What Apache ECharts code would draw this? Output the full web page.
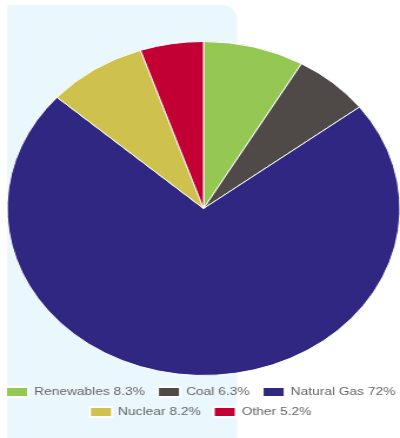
<!DOCTYPE html>
<html>
<head>
<meta charset="utf-8">
<script src="https://cdn.jsdelivr.net/npm/echarts@6/dist/echarts.min.js"></script>
<style>
  html, body { margin: 0; padding: 0; overflow: hidden; background: #fff; }
  #chart { width: 340px; height: 438px; transform: scaleX(1.1765); transform-origin: 0 0; }
</style>
</head>
<body>
<div id="chart"></div>
<script>
var myChart = echarts.init(document.getElementById('chart'));

// energy mix, percent share
var sources = ['Renewables', 'Coal', 'Natural Gas', 'Nuclear', 'Other'];
var shares = [8.3, 6.3, 72, 8.2, 5.2];
var colors = ['#94c853', '#4f4a48', '#302783', '#cfc14e', '#c20033'];

var pieData = sources.map(function (name, i) {
  return { name: name, value: shares[i], itemStyle: { color: colors[i] } };
});

function legendLabel(name) {
  return name + ' ' + shares[sources.indexOf(name)] + '%';
}

var legendBase = {
  left: 'center',
  padding: 0,
  icon: 'rect',
  itemWidth: 19,
  itemHeight: 10,
  itemGap: 10,
  selectedMode: false,
  formatter: legendLabel,
  textStyle: { color: '#666', fontSize: 11.7, fontFamily: 'Liberation Sans' }
};

var option = {
  animation: false,
  graphic: [{
    type: 'rect',
    z: -10,
    shape: { x: 6, y: 5, width: 195.5, height: 440, r: [0, 13, 0, 0] },
    style: { fill: '#eaf7fd' }
  }],
  legend: [
    Object.assign({}, legendBase, { top: 386, data: sources.slice(0, 3) }),
    Object.assign({}, legendBase, { top: 406, data: sources.slice(3) })
  ],
  series: [{
    type: 'pie',
    center: [173, 208.5],
    radius: 167,
    startAngle: 90,
    label: { show: false },
    labelLine: { show: false },
    itemStyle: { borderColor: '#fff', borderWidth: 1 },
    emphasis: { disabled: true },
    data: pieData
  }]
};

myChart.setOption(option);
</script>
</body>
</html>
